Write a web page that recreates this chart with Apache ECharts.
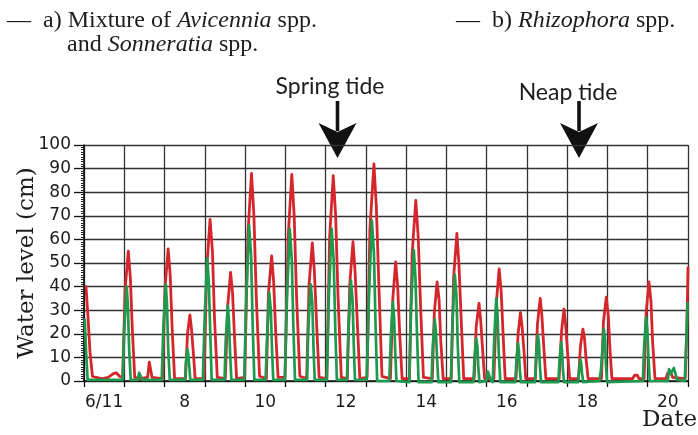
<!DOCTYPE html>
<html>
<head>
<meta charset="utf-8">
<script src="https://cdn.jsdelivr.net/npm/echarts@6.0.0/dist/echarts.min.js"></script>
<style>
  html, body { margin: 0; padding: 0; background: #fff; }
  #chart { width: 698px; height: 435px; }
</style>
</head>
<body>
<div id="chart"></div>
<script>
// day labels under the axis (one per day, every second one shown)
var dayLabels = ['6/11', '7', '8', '9', '10', '11', '12', '13', '14', '15', '16', '17', '18', '19', '20'];
var yTicks = [0, 100, 10];

// water level (cm) against time in days
var redLevel = [
  [6.05, 40], [6.10, 27], [6.15, 12], [6.21, 2], [6.30, 1.5], [6.45, 1], [6.60, 1.5], [6.72, 3], [6.80, 3.5], [6.88, 2],
  [6.96, 1.5], [7.02, 38.5], [7.10, 55], [7.15, 44], [7.20, 22], [7.26, 1.5],
  [7.40, 1], [7.58, 1.5], [7.62, 8], [7.65, 8.5], [7.69, 1.5],
  [7.95, 1], [8.01, 39], [8.09, 56], [8.14, 45], [8.19, 22], [8.25, 1],
  [8.52, 1], [8.57, 20], [8.63, 28], [8.67, 22], [8.72, 11], [8.76, 1],
  [8.98, 1], [9.05, 48], [9.13, 68.5], [9.19, 55], [9.24, 27], [9.31, 1.5],
  [9.51, 1], [9.57, 32], [9.64, 46], [9.69, 37], [9.74, 18], [9.79, 1],
  [9.99, 1.5], [10.07, 62], [10.16, 88], [10.22, 70], [10.28, 35], [10.36, 2],
  [10.53, 1], [10.58, 37], [10.66, 53], [10.71, 42], [10.76, 21], [10.82, 1.5],
  [10.99, 1.5], [11.07, 61], [11.16, 87.5], [11.22, 70], [11.28, 35], [11.36, 2],
  [11.53, 1], [11.59, 41], [11.67, 58.5], [11.72, 47], [11.78, 23], [11.84, 1.5],
  [12.03, 1], [12.10, 61], [12.19, 87], [12.25, 70], [12.31, 35], [12.39, 1.5],
  [12.54, 1], [12.60, 41], [12.68, 59], [12.73, 47], [12.79, 24], [12.85, 1],
  [13.03, 1.5], [13.10, 64], [13.20, 92], [13.26, 74], [13.33, 37], [13.40, 2],
  [13.61, 1], [13.67, 35], [13.74, 50.5], [13.79, 40], [13.84, 20], [13.90, 1],
  [14.08, 1], [14.15, 54], [14.24, 76.5], [14.30, 61], [14.36, 31], [14.43, 1.5],
  [14.65, 1], [14.70, 29], [14.77, 42], [14.82, 34], [14.86, 17], [14.92, 1],
  [15.12, 1], [15.18, 44], [15.26, 62.5], [15.31, 50], [15.37, 25], [15.43, 1],
  [15.69, 1], [15.74, 23], [15.81, 33], [15.85, 26], [15.90, 13], [15.95, 1],
  [16.18, 1], [16.24, 33], [16.31, 47.5], [16.36, 38], [16.41, 19], [16.46, 1],
  [16.73, 1], [16.78, 20], [16.84, 29], [16.88, 23], [16.93, 12], [16.97, 1],
  [17.21, 1], [17.26, 24], [17.33, 35], [17.37, 28], [17.42, 14], [17.47, 1],
  [17.80, 1], [17.86, 21], [17.92, 30.5], [17.96, 24], [18.01, 12], [18.06, 1],
  [18.28, 1], [18.33, 15], [18.39, 22], [18.43, 18], [18.47, 9], [18.52, 1],
  [18.85, 1], [18.90, 25], [18.97, 35.5], [19.02, 28], [19.06, 14], [19.11, 1],
  [19.62, 1], [19.68, 2.5], [19.74, 2.5], [19.78, 1],
  [19.91, 1], [19.96, 29], [20.03, 42], [20.08, 34], [20.12, 17], [20.18, 1],
  [20.45, 1], [20.50, 3.5], [20.56, 4], [20.62, 1.5],
  [20.93, 1], [20.97, 22], [21.00, 48]
];

var greenLevel = [
  [6.02, 26], [6.05, 13], [6.09, 0.5], [6.40, 0.5], [6.70, 0.5],
  [6.96, 0.5], [7.00, 22], [7.06, 40], [7.09, 32], [7.12, 14], [7.16, 0.5],
  [7.33, 0.5], [7.37, 3.5], [7.41, 3], [7.45, 0.5],
  [7.93, 0.5], [7.97, 22.5], [8.03, 41], [8.06, 33], [8.09, 14], [8.13, 0.5],
  [8.51, 0.5], [8.53, 7.5], [8.57, 13.5], [8.59, 11], [8.62, 5], [8.64, 0.5],
  [8.95, 0.5], [9.00, 28.5], [9.06, 52], [9.10, 41.5], [9.14, 18], [9.17, 0.5],
  [9.49, 0.5], [9.52, 17.5], [9.57, 32], [9.60, 25.5], [9.63, 11], [9.66, 0.5],
  [9.98, 0.5], [10.03, 36], [10.10, 66], [10.15, 53], [10.19, 23], [10.23, 0.5],
  [10.51, 0.5], [10.55, 20.5], [10.60, 37.5], [10.64, 30], [10.67, 13], [10.70, 0.5],
  [10.99, 0.5], [11.04, 35.5], [11.11, 64.5], [11.16, 51.5], [11.20, 22.5], [11.24, 0.5],
  [11.54, 0.5], [11.57, 22.5], [11.63, 41], [11.67, 33], [11.70, 14], [11.73, 0.5],
  [12.03, 0.5], [12.08, 35.5], [12.15, 64.5], [12.20, 51.5], [12.24, 22.5], [12.28, 0.5],
  [12.53, 0.5], [12.57, 23.5], [12.63, 42.5], [12.67, 34], [12.70, 15], [12.73, 0.5],
  [13.02, 0.5], [13.08, 37.5], [13.15, 68], [13.20, 54.5], [13.24, 24], [13.28, 0],
  [13.58, 0], [13.62, 18.5], [13.67, 33.5], [13.70, 27], [13.73, 12], [13.76, 0],
  [14.08, -0.5], [14.12, 30.5], [14.19, 55.5], [14.23, 44.5], [14.27, 19.5], [14.31, -0.5],
  [14.63, -0.5], [14.66, 14.5], [14.71, 26], [14.74, 21], [14.77, 9], [14.80, -0.5],
  [15.11, -0.5], [15.15, 25], [15.21, 45], [15.25, 36], [15.28, 16], [15.32, -0.5],
  [15.67, -0.5], [15.70, 10], [15.74, 18], [15.77, 14.5], [15.79, 6.5], [15.82, -0.5],
  [15.99, 0], [16.03, 4], [16.06, 4.5], [16.10, 0.5],
  [16.15, -0.5], [16.19, 19], [16.24, 35], [16.27, 28], [16.30, 12], [16.34, -0.5],
  [16.71, -0.5], [16.74, 9], [16.78, 16], [16.80, 13], [16.82, 5.5], [16.85, -0.5],
  [17.20, -0.5], [17.23, 10.5], [17.27, 19.5], [17.30, 15.5], [17.32, 7], [17.35, -0.5],
  [17.78, -0.5], [17.81, 9], [17.85, 16.5], [17.87, 13], [17.89, 6], [17.92, -0.5],
  [18.27, -0.5], [18.30, 5], [18.33, 9], [18.35, 7], [18.37, 3], [18.40, -0.5],
  [18.80, 0], [18.84, 5], [18.87, 12], [18.91, 22], [18.94, 17.5], [18.96, 7.5], [18.99, -0.5],
  [19.88, 0], [19.91, 15], [19.96, 27], [19.99, 21.5], [20.02, 9.5], [20.05, 0],
  [20.50, 0], [20.53, 5], [20.57, 3], [20.65, 5.5], [20.69, 5.5], [20.73, 0.5],
  [20.92, 0], [20.96, 18], [20.99, 33]
];

var ink = '#1c1c1c';
var gridCol = '#333';
var times = '"Liberation Serif", "Times New Roman", serif';

function arrow(cx) {
  return [
    { type: 'rect', shape: { x: cx - 1.8, y: 101, width: 3.6, height: 30 }, style: { fill: '#111' } },
    { type: 'polygon', shape: { points: [[cx - 19, 123], [cx, 132], [cx + 19, 123], [cx, 158]] }, style: { fill: '#111' } }
  ];
}

var chart = echarts.init(document.getElementById('chart'));
var option = {
  backgroundColor: '#fff',
  animation: false,
  grid: { left: 84, right: 10, top: 145, bottom: 54, outerBoundsMode: 'none' },
  xAxis: [
    {
      type: 'value', min: 6, max: 21, interval: 1,
      axisLine: { show: true, lineStyle: { color: '#111', width: 1.6 } },
      axisTick: { show: true, length: 6, lineStyle: { color: '#111', width: 1.3 } },
      axisLabel: { show: false },
      splitLine: { show: true, lineStyle: { color: gridCol, width: 1.3 } }
    },
    {
      type: 'category', position: 'bottom', data: dayLabels, boundaryGap: true,
      axisLine: { show: false }, axisTick: { show: false }, splitLine: { show: false },
      axisLabel: {
        interval: 1, margin: 13, color: ink,
        fontFamily: 'DejaVu Sans', fontSize: 17
      }
    }
  ],
  yAxis: {
    type: 'value', min: yTicks[0], max: yTicks[1], interval: yTicks[2],
    name: 'Water level (cm)', nameLocation: 'middle', nameGap: 45, nameMoveOverlap: false,
    nameTextStyle: { fontFamily: 'DejaVu Serif', fontSize: 23, color: ink },
    axisLine: { show: true, lineStyle: { color: '#111', width: 1.6 } },
    axisTick: { show: true, length: 10, lineStyle: { color: '#111', width: 1.3 } },
    minorTick: { show: true, splitNumber: 10, length: 3, lineStyle: { color: '#222', width: 1 } },
    axisLabel: { margin: 13, color: ink, fontFamily: 'DejaVu Sans', fontSize: 17 },
    splitLine: { show: true, lineStyle: { color: gridCol, width: 1.3 } }
  },
  series: [
    {
      name: 'a', type: 'line', data: redLevel, xAxisIndex: 0, clip: false,
      showSymbol: false, z: 3,
      lineStyle: { color: '#d5262c', width: 2.8, join: 'round', cap: 'round' }
    },
    {
      name: 'b', type: 'line', data: greenLevel, xAxisIndex: 0, clip: false,
      showSymbol: false, z: 4,
      lineStyle: { color: '#1e9a4e', width: 2.7, join: 'round', cap: 'round' }
    }
  ],
  graphic: [
    { type: 'text', style: { text: '\u2014', x: 7, y: 21, font: '24px ' + times, fill: ink, textVerticalAlign: 'middle' } },
    { type: 'text', style: {
        text: 'a) Mixture of {i|Avicennia} spp.', x: 43, y: 21, font: '24px ' + times, fill: ink, textVerticalAlign: 'middle',
        rich: { i: { font: 'italic 24px ' + times, fill: ink } } } },
    { type: 'text', style: {
        text: 'and {i|Sonneratia} spp.', x: 67, y: 45, font: '24px ' + times, fill: ink, textVerticalAlign: 'middle',
        rich: { i: { font: 'italic 24px ' + times, fill: ink } } } },
    { type: 'text', style: { text: '\u2014', x: 456, y: 21, font: '24px ' + times, fill: ink, textVerticalAlign: 'middle' } },
    { type: 'text', style: {
        text: 'b) {i|Rhizophora} spp.', x: 492, y: 21, font: '24px ' + times, fill: ink, textVerticalAlign: 'middle',
        rich: { i: { font: 'italic 24px ' + times, fill: ink } } } },
    { type: 'text', style: { text: 'Spring tide', x: 330, y: 87, font: '23px Lato', fill: ink, textAlign: 'center', textVerticalAlign: 'middle' } },
    { type: 'text', style: { text: 'Neap tide', x: 568, y: 93, font: '23px Lato', fill: ink, textAlign: 'center', textVerticalAlign: 'middle' } },
    { type: 'text', style: { text: 'Date', x: 697, y: 420, font: '23px "DejaVu Serif"', fill: ink, textAlign: 'right', textVerticalAlign: 'middle' } }
  ].concat(arrow(337.5), arrow(579))
};
chart.setOption(option);
</script>
</body>
</html>
